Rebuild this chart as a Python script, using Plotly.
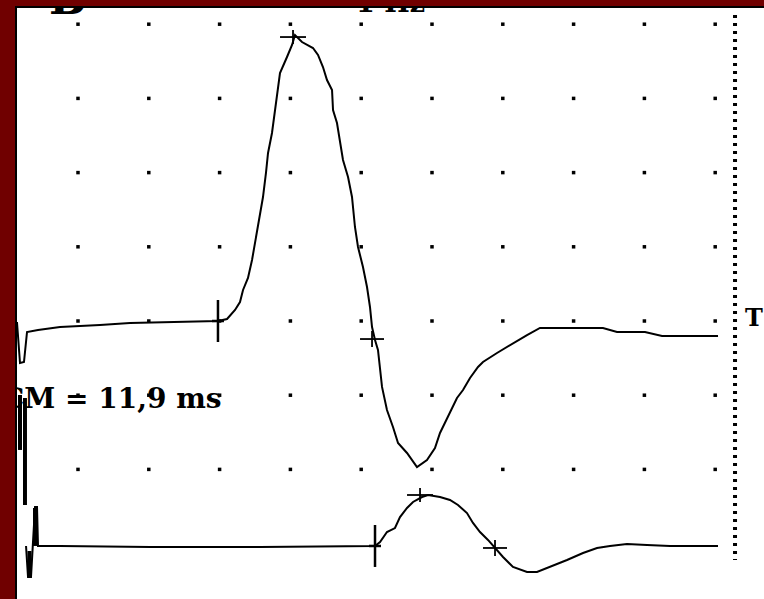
import plotly.graph_objects as go

# ---- data (time in grid divisions, amplitude in grid divisions) ----
upper_t = [-0.862, -0.819, -0.763, -0.720, -0.565, -0.254, 0.311, 0.734, 1.977, 2.105,
           2.218, 2.288, 2.331, 2.401, 2.458, 2.500, 2.542, 2.613, 2.655, 2.684,
           2.740, 2.782, 2.825, 2.853, 2.952, 3.023, 3.065, 3.164, 3.319, 3.390,
           3.460, 3.517, 3.588, 3.602, 3.658, 3.701, 3.743, 3.814, 3.870, 3.912,
           3.955, 4.025, 4.082, 4.124, 4.153, 4.195, 4.237, 4.294, 4.364, 4.449,
           4.520, 4.647, 4.788, 4.929, 5.042, 5.113, 5.254, 5.353, 5.438, 5.537,
           5.650, 5.720, 5.918, 6.144, 6.342, 6.525, 7.415, 7.613, 8.008, 8.249, 9.040]
upper_a = [-0.013, -0.566, -0.553, -0.148, -0.121, -0.081, -0.054, -0.027, 0.000, 0.027,
           0.148, 0.256, 0.418, 0.580, 0.822, 1.051, 1.321, 1.671, 1.995, 2.264,
           2.534, 2.844, 3.154, 3.342, 3.558, 3.720, 3.854, 3.760, 3.679, 3.585,
           3.423, 3.248, 3.113, 2.844, 2.668, 2.439, 2.170, 1.941, 1.671, 1.267,
           0.997, 0.728, 0.458, 0.189, -0.081, -0.256, -0.391, -0.889, -1.199, -1.429,
           -1.644, -1.779, -1.968, -1.873, -1.712, -1.509, -1.240, -1.038, -0.930, -0.768,
           -0.620, -0.553, -0.431, -0.296, -0.189, -0.094, -0.094, -0.148, -0.148, -0.202, -0.202]

lower_t = [-0.734, -0.706, -0.664, -0.636, -0.607, -0.579, -0.565, -0.254, 1.017, 2.571,
           4.195, 4.266, 4.364, 4.477, 4.548, 4.647, 4.732, 4.859, 4.944, 5.113,
           5.254, 5.367, 5.494, 5.579, 5.678, 5.791, 5.890, 6.003, 6.144, 6.342,
           6.483, 6.667, 6.907, 7.133, 7.331, 7.514, 7.754, 8.037, 8.362, 9.040]
lower_a = [-3.032, -3.450, -3.450, -3.032, -2.507, -2.507, -3.032, -3.032, -3.046, -3.046,
           -3.032, -2.978, -2.844, -2.790, -2.642, -2.520, -2.439, -2.372, -2.345, -2.372,
           -2.412, -2.480, -2.588, -2.722, -2.844, -2.951, -3.059, -3.181, -3.315, -3.383,
           -3.383, -3.315, -3.221, -3.127, -3.059, -3.032, -3.005, -3.019, -3.032, -3.032]

# cursor markers (onset, peak, crossing) on each trace
upper_cursor_t = [1.977, 3.037, 4.153]
upper_cursor_a = [0.000, 3.827, -0.243]
lower_cursor_t = [4.195, 4.831, 5.890]
lower_cursor_a = [-3.032, -2.345, -3.059]

# stimulus artifact bars at the left edge
artifact_t = [-0.819, -0.749, -0.685, -0.607]
artifact_top = [-0.997, -1.038, -3.100, -2.520]
artifact_bot = [-1.738, -2.480, -3.450, -3.032]

grid_cols = list(range(0, 10))
grid_rows = [4, 3, 2, 1, 0, -1, -2]

marker_line_t = 9.280
marker_line_a = [4.124, -3.221]

label_latency = "CM = 11,9 ms"
label_panel = "B"
label_freq = "1 Hz"
label_right = "T"

# ---- scale helpers (px per division) ----
PX_X = 70.8
PX_Y = 74.2
X_RANGE = [-78 / PX_X, (764 - 78) / PX_X]
Y_RANGE = [(321 - 599) / PX_Y, 321 / PX_Y]


def cross(t, a, hx, hy):
    xs, ys = [], []
    for ti, ai in zip(t, a):
        xs += [ti - hx / PX_X, ti + hx / PX_X, None, ti, ti, None]
        ys += [ai, ai, None, ai - hy / PX_Y, ai + hy / PX_Y, None]
    return xs, ys


fig = go.Figure()

# grid dots
gx, gy = [], []
for r in grid_rows:
    for c in grid_cols:
        gx.append(c)
        gy.append(r)
fig.add_trace(go.Scatter(x=gx, y=gy, mode="markers",
                         marker=dict(symbol="square", size=3.5, color="black", line=dict(width=0)),
                         hoverinfo="skip"))

# dotted vertical marker line
fig.add_trace(go.Scatter(x=[marker_line_t, marker_line_t], y=marker_line_a, mode="lines",
                         line=dict(color="black", width=4, dash="3px,5px"), hoverinfo="skip"))

# traces
fig.add_trace(go.Scatter(x=upper_t, y=upper_a, mode="lines",
                         line=dict(color="black", width=2), hoverinfo="skip"))
fig.add_trace(go.Scatter(x=lower_t, y=lower_a, mode="lines",
                         line=dict(color="black", width=2), hoverinfo="skip"))

# cursors
sizes = [(6, 21), (13, 7), (12, 8)]
for (ts, as_) in [(upper_cursor_t, upper_cursor_a), (lower_cursor_t, lower_cursor_a)]:
    for i in range(3):
        xs, ys = cross([ts[i]], [as_[i]], *sizes[i])
        fig.add_trace(go.Scatter(x=xs, y=ys, mode="lines",
                                 line=dict(color="black", width=2.5 if i == 0 else 1.8),
                                 hoverinfo="skip"))

# artifact bars
ax_, ay_ = [], []
for t, a0, a1 in zip(artifact_t, artifact_top, artifact_bot):
    ax_ += [t, t, None]
    ay_ += [a0, a1, None]
fig.add_trace(go.Scatter(x=ax_, y=ay_, mode="lines",
                         line=dict(color="black", width=4), hoverinfo="skip"))

# texts
def add_text(txt, t, a, size, pos):
    fig.add_trace(go.Scatter(x=[t], y=[a], mode="text", text=[txt], textposition=pos,
                             textfont=dict(family="DejaVu Serif", size=size, color="black",
                                           weight="bold"),
                             cliponaxis=False, hoverinfo="skip"))

add_text(label_latency, (2 - 78) / PX_X, (321 - 401) / PX_Y, 28, "middle right")
add_text(label_panel, (67.5 - 78) / PX_X, (321 - 3) / PX_Y, 44, "middle center")
add_text(label_freq, (356 - 78) / PX_X, (321 - 5) / PX_Y, 27, "middle right")
add_text(label_right, (745 - 78) / PX_X, (321 - 320) / PX_Y, 24, "middle right")

# frame (dark red band with black inner edge)
W, H = 764, 599
red = "#700000"
shapes = [
    dict(type="rect", xref="paper", yref="paper", x0=0, x1=15 / W, y0=0, y1=1,
         fillcolor=red, line=dict(width=0), layer="above"),
    dict(type="rect", xref="paper", yref="paper", x0=0, x1=1, y0=1 - 6 / H, y1=1,
         fillcolor=red, line=dict(width=0), layer="above"),
    dict(type="rect", xref="paper", yref="paper", x0=15 / W, x1=17 / W, y0=0, y1=1 - 6 / H,
         fillcolor="black", line=dict(width=0), layer="above"),
    dict(type="rect", xref="paper", yref="paper", x0=15 / W, x1=1, y0=1 - 8 / H, y1=1 - 6 / H,
         fillcolor="black", line=dict(width=0), layer="above"),
]

fig.update_layout(
    width=W, height=H,
    margin=dict(l=0, r=0, t=0, b=0),
    paper_bgcolor="white", plot_bgcolor="white",
    showlegend=False,
    xaxis=dict(range=X_RANGE, visible=False, fixedrange=True),
    yaxis=dict(range=Y_RANGE, visible=False, fixedrange=True),
    shapes=shapes,
)

fig.write_html("out.html", config={"displayModeBar": False},
               post_script="document.body.style.margin='0px';document.body.style.overflow='hidden';")
